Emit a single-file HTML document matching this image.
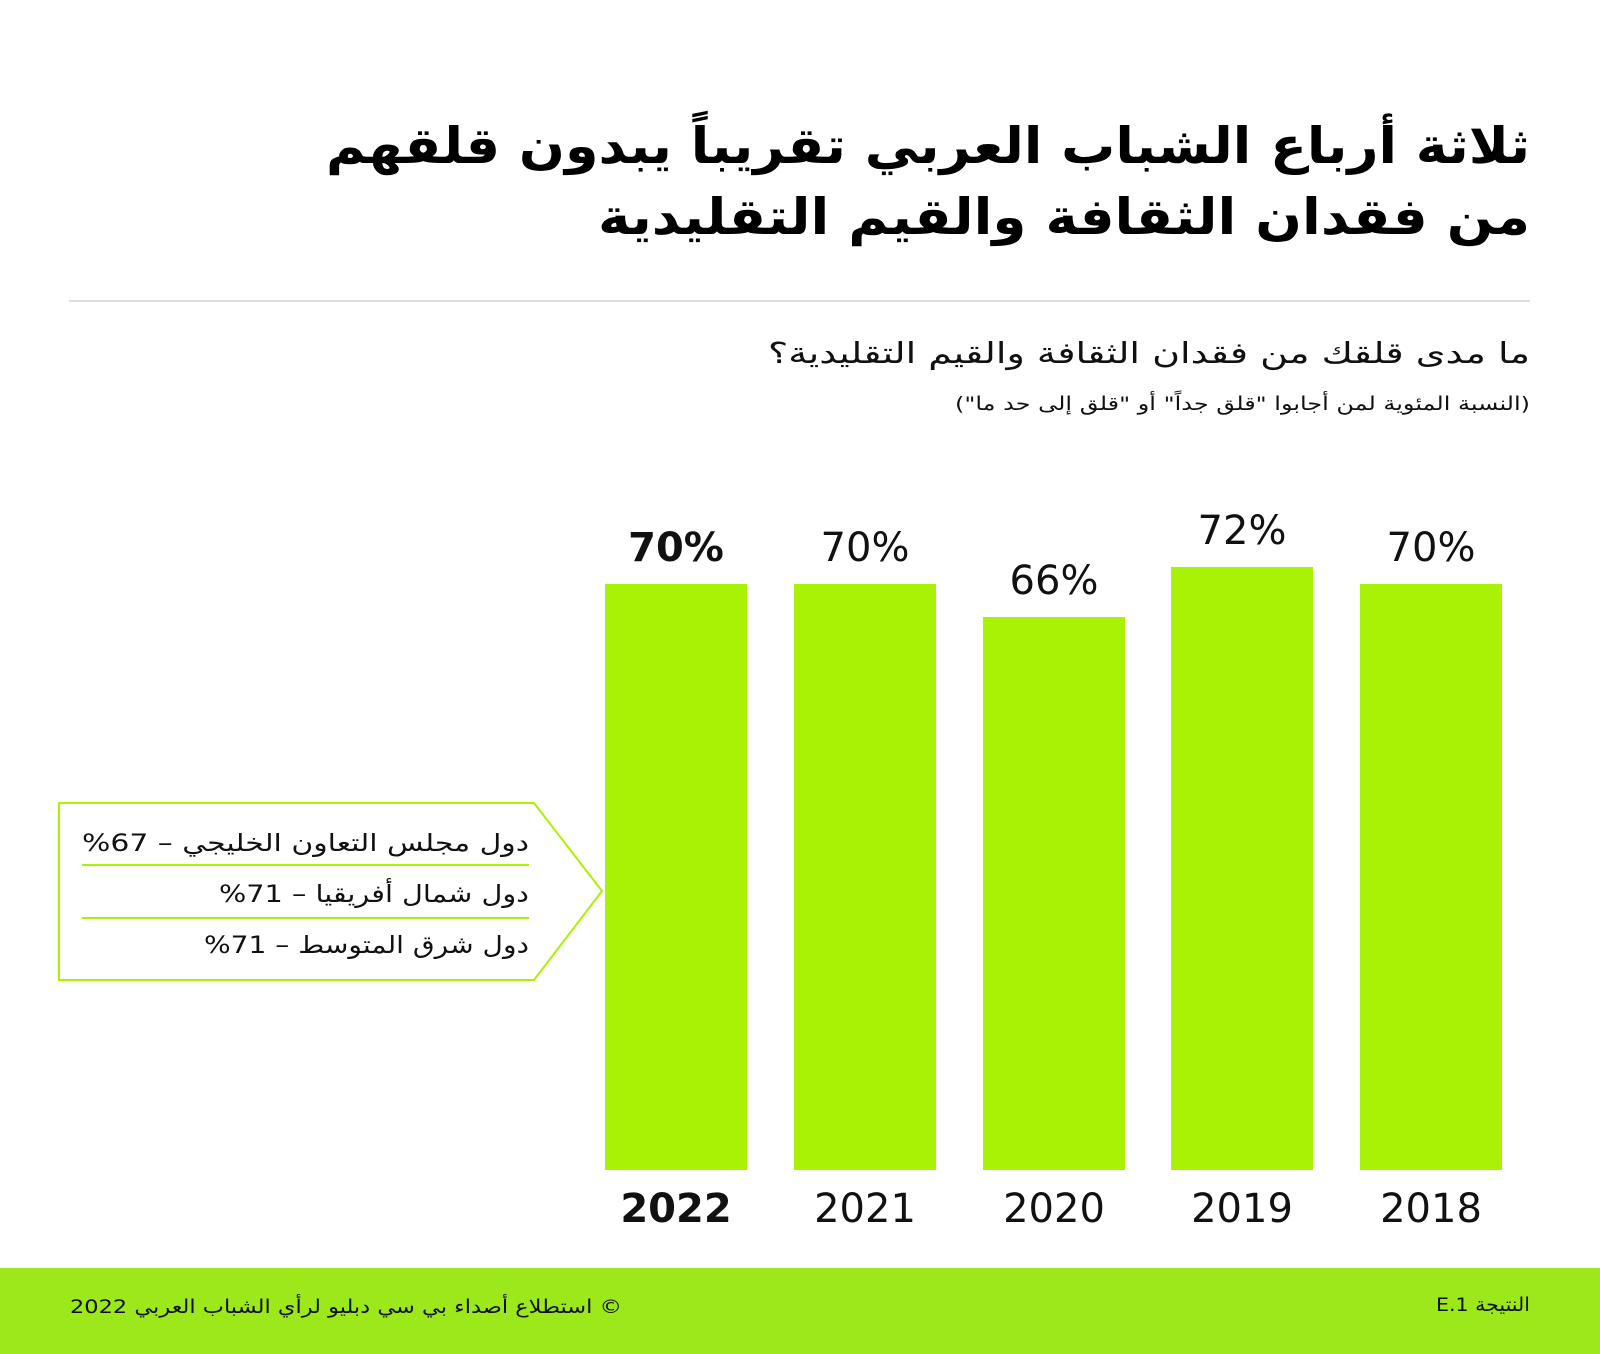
<!DOCTYPE html>
<html><head><meta charset="utf-8"><style>
html,body{margin:0;padding:0;background:#fff}
svg{display:block}
text{font-family:"DejaVu Sans","Liberation Sans",sans-serif}
</style></head><body>
<svg width="1600" height="1354" viewBox="0 0 1600 1354" xmlns="http://www.w3.org/2000/svg">
<rect width="1600" height="1354" fill="#fff"/>
<g direction="rtl" text-anchor="start">
<text x="1530" y="163" font-size="50" font-weight="bold" fill="#000" textLength="1204" lengthAdjust="spacingAndGlyphs">ثلاثة أرباع الشباب العربي تقريباً يبدون قلقهم</text>
<text x="1530" y="234" font-size="50" font-weight="bold" fill="#000" textLength="932" lengthAdjust="spacingAndGlyphs">من فقدان الثقافة والقيم التقليدية</text>
<text x="1530" y="363" font-size="29" fill="#111" textLength="762" lengthAdjust="spacingAndGlyphs">ما مدى قلقك من فقدان الثقافة والقيم التقليدية؟</text>
<text x="1530" y="410" font-size="19" fill="#111" textLength="575" lengthAdjust="spacingAndGlyphs">(النسبة المئوية لمن أجابوا "قلق جداً" أو "قلق إلى حد ما")</text>
</g>
<line x1="69" y1="301" x2="1530" y2="301" stroke="#ddd" stroke-width="2"/>
<g fill="#aaf205">
<rect x="605" y="584" width="142" height="586"/>
<rect x="794" y="584" width="142" height="586"/>
<rect x="983" y="617" width="142" height="553"/>
<rect x="1171" y="567" width="142" height="603"/>
<rect x="1360" y="584" width="142" height="586"/>
</g>
<g font-size="40" text-anchor="middle" fill="#111" font-family="Liberation Sans">
<text x="676" y="561" font-weight="bold">70%</text>
<text x="865" y="561">70%</text>
<text x="1054" y="594">66%</text>
<text x="1242" y="544">72%</text>
<text x="1431" y="561">70%</text>
<text x="676" y="1222" font-weight="bold">2022</text>
<text x="865" y="1222">2021</text>
<text x="1054" y="1222">2020</text>
<text x="1242" y="1222">2019</text>
<text x="1431" y="1222">2018</text>
</g>
<polygon points="59,803 534,803 602,891 534,980 59,980" fill="#fff" stroke="#aaf205" stroke-width="2"/>
<line x1="82" y1="865" x2="529" y2="865" stroke="#aaf205" stroke-width="2"/>
<line x1="82" y1="918" x2="529" y2="918" stroke="#aaf205" stroke-width="2"/>
<g direction="rtl" text-anchor="start" font-size="24" fill="#111">
<text x="529" y="851" textLength="447" lengthAdjust="spacingAndGlyphs">دول مجلس التعاون الخليجي –  67%</text>
<text x="529" y="902" textLength="310" lengthAdjust="spacingAndGlyphs">دول شمال أفريقيا – 71%</text>
<text x="529" y="953" textLength="325" lengthAdjust="spacingAndGlyphs">دول شرق المتوسط – 71%</text>
</g>
<rect x="0" y="1268" width="1600" height="86" fill="#9de81a"/>
<g direction="rtl" text-anchor="start" font-size="19" fill="#111">
<text x="622" y="1313" textLength="552" lengthAdjust="spacingAndGlyphs">© استطلاع أصداء بي سي دبليو لرأي الشباب العربي 2022</text>
<text x="1530" y="1311" textLength="94" lengthAdjust="spacingAndGlyphs">النتيجة E.1</text>
</g>
</svg>
</body></html>
